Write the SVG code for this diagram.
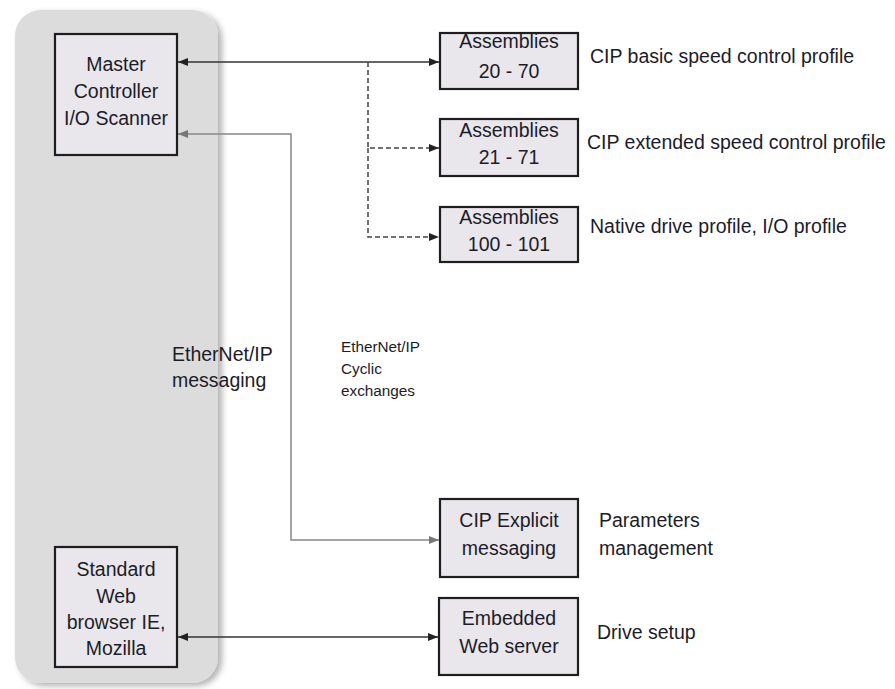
<svg xmlns="http://www.w3.org/2000/svg" width="895" height="689" viewBox="0 0 895 689">
<defs>
<filter id="sh" x="-10%" y="-5%" width="120%" height="110%">
<feDropShadow dx="4" dy="3" stdDeviation="3" flood-color="#000" flood-opacity="0.3"/>
</filter>
<marker id="ak" viewBox="0 0 10 8" refX="10" refY="4" markerWidth="10" markerHeight="8" markerUnits="userSpaceOnUse" orient="auto-start-reverse">
<path d="M0,0 L10,4 L0,8 Z" fill="#222"/>
</marker>
<marker id="ag" viewBox="0 0 10 8" refX="10" refY="4" markerWidth="10" markerHeight="8" markerUnits="userSpaceOnUse" orient="auto-start-reverse">
<path d="M0,0 L10,4 L0,8 Z" fill="#777"/>
</marker>
</defs>
<style>
.box{fill:#e9e7eb;stroke:#1e1e1e;stroke-width:2.2}
.t{font-family:"Liberation Sans",Arial,sans-serif;font-size:19.5px;fill:#1c1c28;text-anchor:middle}
.l{font-family:"Liberation Sans",Arial,sans-serif;font-size:19.5px;fill:#1c1c28}
.s{font-family:"Liberation Sans",Arial,sans-serif;font-size:15.3px;fill:#1c1c28}
.k{fill:none;stroke:#333;stroke-width:1.5}
.d{fill:none;stroke:#444;stroke-width:1.5;stroke-dasharray:5,3}
.g{fill:none;stroke:#888;stroke-width:1.5}
</style>
<rect x="15" y="10" width="203" height="673" rx="26" ry="26" fill="#dcdcdc" filter="url(#sh)"/>
<g id="connectors">
<line class="k" x1="178" y1="62" x2="439" y2="62" marker-start="url(#ak)" marker-end="url(#ak)"/>
<polyline class="d" points="368,62 368,148 439,148" marker-end="url(#ak)"/>
<polyline class="d" points="368,148 368,237 439,237" marker-end="url(#ak)"/>
<polyline class="g" points="178,134 291,134 291,540 439,540" marker-start="url(#ag)" marker-end="url(#ag)"/>
<line class="k" x1="178" y1="637" x2="438" y2="637" marker-start="url(#ak)" marker-end="url(#ak)"/>
</g>
<g id="master">
<rect class="box" x="55" y="34" width="122" height="121"/>
<text class="t" x="116" y="71">Master</text>
<text class="t" x="116" y="98">Controller</text>
<text class="t" x="116" y="125">I/O Scanner</text>
</g>
<g id="browser">
<rect class="box" x="55" y="547" width="122" height="120"/>
<text class="t" x="116" y="576">Standard</text>
<text class="t" x="116" y="603">Web</text>
<text class="t" x="116" y="629">browser IE,</text>
<text class="t" x="116" y="655">Mozilla</text>
</g>
<g id="asm1">
<rect class="box" x="440" y="33" width="138" height="56"/>
<text class="t" x="509" y="48">Assemblies</text>
<text class="t" x="509" y="78">20 - 70</text>
</g>
<g id="asm2">
<rect class="box" x="440" y="119" width="138" height="57"/>
<text class="t" x="509" y="137">Assemblies</text>
<text class="t" x="509" y="164">21 - 71</text>
</g>
<g id="asm3">
<rect class="box" x="440" y="207" width="138" height="55"/>
<text class="t" x="509" y="224">Assemblies</text>
<text class="t" x="509" y="251">100 - 101</text>
</g>
<g id="explicit">
<rect class="box" x="440" y="499" width="138" height="78"/>
<text class="t" x="509" y="527">CIP Explicit</text>
<text class="t" x="509" y="555">messaging</text>
</g>
<g id="webserver">
<rect class="box" x="439" y="598" width="139" height="77"/>
<text class="t" x="509" y="625">Embedded</text>
<text class="t" x="509" y="653">Web server</text>
</g>
<g id="labels">
<text class="l" x="590" y="63">CIP basic speed control profile</text>
<text class="l" x="587" y="149">CIP extended speed control profile</text>
<text class="l" x="590" y="233">Native drive profile, I/O profile</text>
<text class="l" x="599" y="527">Parameters</text>
<text class="l" x="599" y="555">management</text>
<text class="l" x="597" y="639">Drive setup</text>
<text class="l" x="172" y="361">EtherNet/IP</text>
<text class="l" x="172" y="387">messaging</text>
<text class="s" x="341" y="352">EtherNet/IP</text>
<text class="s" x="341" y="374">Cyclic</text>
<text class="s" x="341" y="396">exchanges</text>
</g>
</svg>
